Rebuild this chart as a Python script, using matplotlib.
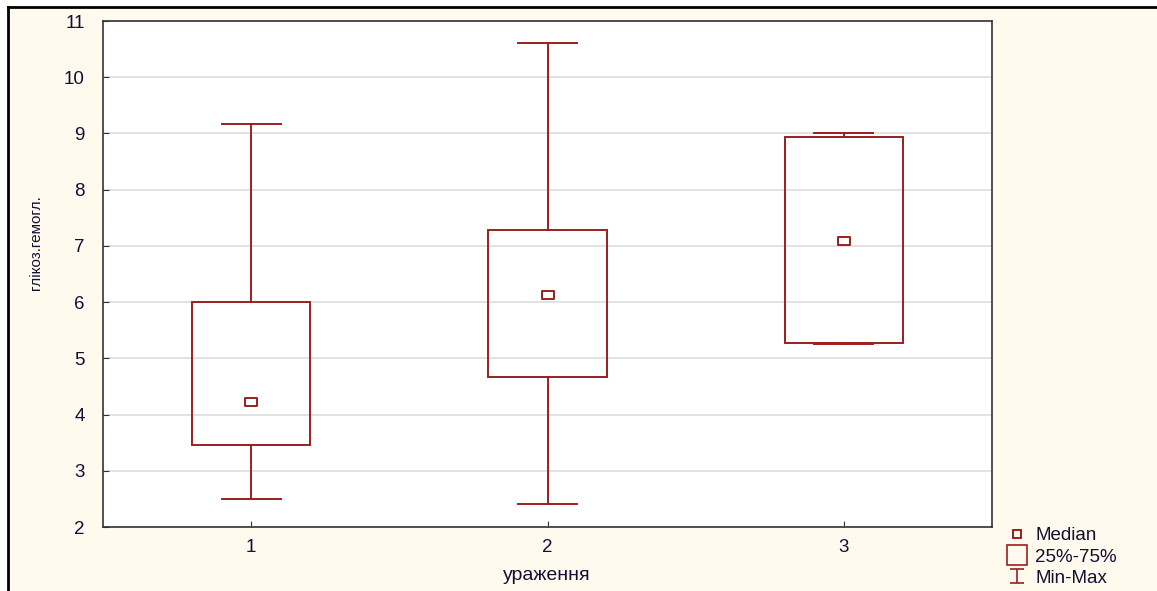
import matplotlib
matplotlib.use('Agg')
import matplotlib.pyplot as plt
from matplotlib.patches import Rectangle
from matplotlib.lines import Line2D
from matplotlib.path import Path

# data
groups = [1, 2, 3]
mins = [2.50, 2.41, 5.25]
q1 = [3.46, 4.67, 5.27]
medians = [4.22, 6.13, 7.09]
q3 = [6.00, 7.28, 8.94]
maxs = [9.17, 10.61, 9.01]

red = '#9b1f1f'
bg = '#fff9ee'
plt.rcParams['font.family'] = ['Liberation Sans', 'DejaVu Sans']

fig = plt.figure(figsize=(11.57, 5.91), dpi=100, facecolor='white')
# cream panel with black outer border (left + top)
fig.patches.append(Rectangle((8 / 1157, -0.1), 1.2, 1.1 - 7 / 591, transform=fig.transFigure,
                             facecolor=bg, edgecolor='none', zorder=-2))
fig.lines.append(Line2D([8 / 1157, 8 / 1157], [0, 1 - 7 / 591], transform=fig.transFigure, color='black', lw=2))
fig.lines.append(Line2D([8 / 1157, 1], [1 - 7 / 591, 1 - 7 / 591], transform=fig.transFigure, color='black', lw=2))

ax = fig.add_axes([103 / 1157, 1 - 527 / 591, (992 - 103) / 1157, (527 - 21) / 591])
ax.set_facecolor('white')

# flat rectangle marker for the median
flat = Path([(-0.8, -0.5), (0.8, -0.5), (0.8, 0.5), (-0.8, 0.5), (-0.8, -0.5)],
            [Path.MOVETO, Path.LINETO, Path.LINETO, Path.LINETO, Path.CLOSEPOLY])

bw = 0.4
cw = 0.2
for g, lo, a, m, b, hi in zip(groups, mins, q1, medians, q3, maxs):
    ax.add_patch(Rectangle((g - bw / 2, a), bw, b - a, facecolor='none', edgecolor=red, lw=1.4, zorder=3))
    ax.plot([g, g], [hi, b], color=red, lw=1.4, zorder=3)
    ax.plot([g, g], [lo, a], color=red, lw=1.4, zorder=3)
    ax.plot([g - cw / 2, g + cw / 2], [hi, hi], color=red, lw=1.4, zorder=3)
    ax.plot([g - cw / 2, g + cw / 2], [lo, lo], color=red, lw=1.4, zorder=3)
    ax.plot([g], [m], marker=flat, ms=9, mfc='none', mec=red, mew=1.4, ls='none', zorder=4)

ax.set_xlim(0.5, 3.5)
ax.set_ylim(2, 11)
ax.set_xticks(groups)
ax.set_yticks(range(2, 12))
ax.grid(axis='y', color='#dddddd', lw=1.2, zorder=0)
ax.set_axisbelow(True)
ax.tick_params(direction='in', length=4, labelsize=13.5, color='#333333', labelcolor='#111133', pad=9)
ax.tick_params(axis='y', pad=13)
for s in ax.spines.values():
    s.set_color('#333333')
    s.set_linewidth(1.2)

fig.text(547 / 1157, 1 - 576 / 591, 'ураження', ha='center', va='center', fontsize=14, color='#111133')
fig.text(36 / 1157, 1 - 243 / 591, 'глікоз.гемогл.', ha='center', va='center', rotation=90,
         fontsize=11, color='#111133', family=['Liberation Sans Narrow', 'Liberation Sans', 'DejaVu Sans'])

# legend
ibeam = Path([(-0.5, 0.5), (0.5, 0.5), (0, 0.5), (0, -0.5), (-0.5, -0.5), (0.5, -0.5)],
             [Path.MOVETO, Path.LINETO, Path.MOVETO, Path.LINETO, Path.MOVETO, Path.LINETO])
handles = [
    Line2D([], [], marker='s', ms=6, mfc='none', mec=red, mew=1.4, ls='none'),
    Line2D([], [], marker='s', ms=14, mfc='none', mec=red, mew=1.2, ls='none'),
    Line2D([], [], marker=ibeam, ms=10, mfc='none', mec=red, mew=1.2, ls='none'),
]
fig.legend(handles, ['Median', '25%-75%', 'Min-Max'], loc='upper left',
           bbox_to_anchor=(998 / 1157, 1 - 518 / 591), frameon=False, fontsize=13.5,
           handlelength=1.0, handletextpad=0.5, labelspacing=0.22, borderpad=0.0,
           labelcolor='#111133')

fig.savefig('out.png', dpi=100, facecolor=fig.get_facecolor())
